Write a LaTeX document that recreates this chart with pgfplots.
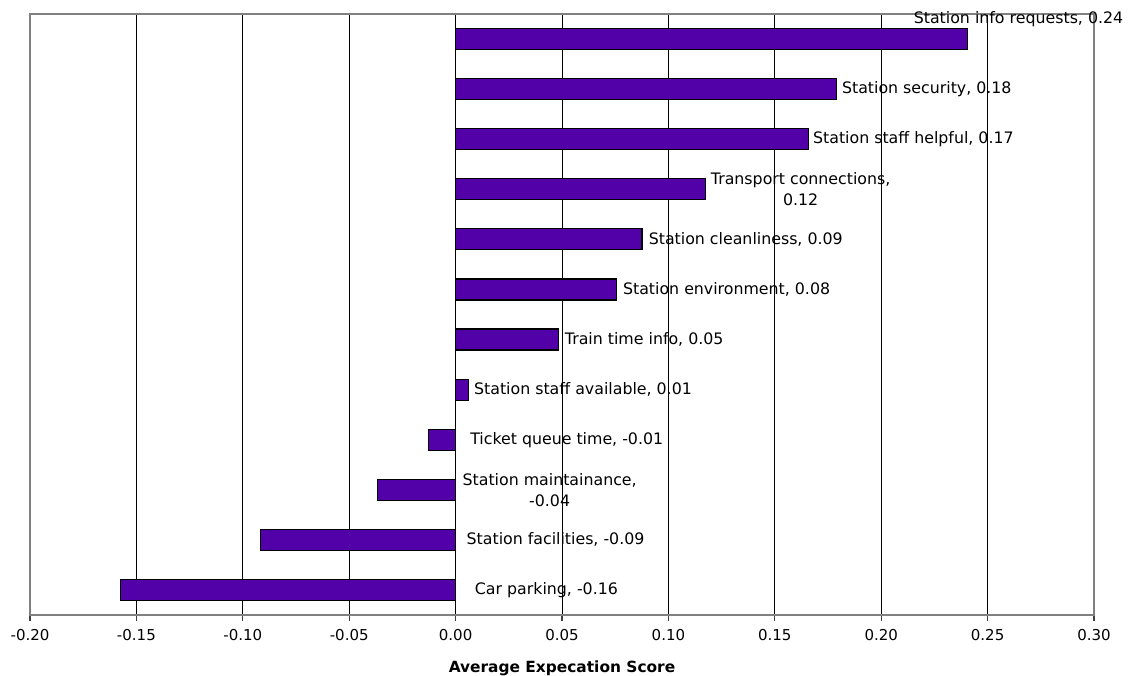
\documentclass[border=0pt]{standalone}
\usepackage{fontspec}
\setmainfont{DejaVu Sans}
\usepackage{pgfplots}
\pgfplotsset{compat=1.18}
\usepackage{pgfplotstable}
\definecolor{barcol}{RGB}{82,0,168}

\pgfplotstableread{
y val
0 -0.1576
1 -0.0916
2 -0.0367
3 -0.0128
4 0.0061
5 0.0484
6 0.0757
7 0.0876
8 0.1176
9 0.1660
10 0.1789
11 0.2405
}\bars

\pgfplotstableread[col sep=semicolon]{
lx;ly;lab
0.0089;0;Car parking, -0.16
0.0050;1;Station facilities, -0.09
0.0031;2;{Station maintainance,\\ -0.04}
0.0067;3;Ticket queue time, -0.01
0.0085;4;Station staff available, 0.01
0.0512;5;Train time info, 0.05
0.0785;6;Station environment, 0.08
0.0906;7;Station cleanliness, 0.09
0.1198;8;{Transport connections,\\ 0.12}
0.1678;9;Station staff helpful, 0.17
0.1814;10;Station security, 0.18
}\labs

\begin{document}
\begin{tikzpicture}[font=\fontsize{7.9}{10.5}\selectfont]
\useasboundingbox (-15pt,-30pt) rectangle (551.5pt,307.5pt);
\begin{axis}[
  at={(0,0)}, anchor=south west,
  scale only axis, width=532pt, height=300.5pt,
  xmin=-0.2, xmax=0.3, ymin=-0.5, ymax=11.5,
  xtick={-0.2,-0.15,-0.1,-0.05,0,0.05,0.1,0.15,0.2,0.25,0.3},
  xticklabels={-0.20,-0.15,-0.10,-0.05,0.00,0.05,0.10,0.15,0.20,0.25,0.30},
  x tick label style={font=\fontsize{7.5}{9}\selectfont, yshift=-0.8pt},
  ytick=\empty,
  xtick pos=left,
  xmajorgrids,
  grid style={black, line width=0.5pt},
  axis line style={black!50, line width=0.7pt},
  tick align=outside, major tick length=3pt,
  tick style={black!75, line width=0.6pt},
  xlabel={\textbf{Average Expecation Score}},
  xlabel style={at={(axis description cs:0.5,0)}, anchor=center, yshift=-26.5pt, font=\fontsize{7.7}{9}\selectfont},
  clip=false,
]
\addplot[xbar, bar width=10.5pt, bar shift=0pt, fill=barcol, draw=black, line width=0.6pt]
  table[x=val, y=y]{\bars};
\addplot[draw=none, mark=none, point meta=explicit symbolic,
  nodes near coords={\pgfplotspointmeta},
  every node near coord/.append style={anchor=west, inner sep=0pt, align=center, black}]
  table[x=lx, y=ly, meta=lab]{\labs};
\addplot[draw=none, mark=none,
  nodes near coords={Station info requests, 0.24},
  every node near coord/.append style={anchor=east, inner sep=0pt, black}]
  coordinates {(0.3139,11.4)};
\end{axis}
\end{tikzpicture}
\end{document}
